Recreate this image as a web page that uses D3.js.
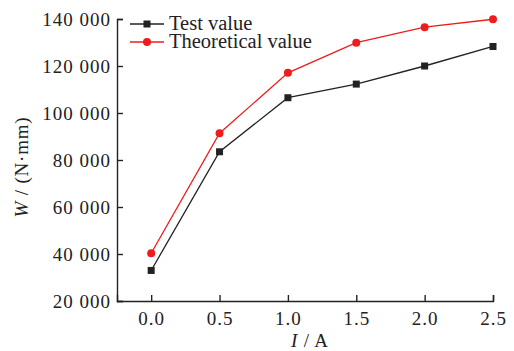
<!DOCTYPE html>
<html>
<head>
<meta charset="utf-8">
<script src="https://cdnjs.cloudflare.com/ajax/libs/d3/7.8.5/d3.min.js"></script>
<style>
  body { margin: 0; background: #fff; }
  svg { display: block; }
  text { font-family: "Liberation Serif", "Times New Roman", serif; fill: #222; }
</style>
</head>
<body>
<div id="chart"></div>
<script>
var current = [0.0, 0.5, 1.0, 1.5, 2.0, 2.5];
var testValue = [33000, 83500, 106500, 112300, 120000, 128300];
var theoreticalValue = [40300, 91400, 117100, 129900, 136500, 139900];
var xTicks = [0.0, 0.5, 1.0, 1.5, 2.0, 2.5];
var yTicks = [20000, 40000, 60000, 80000, 100000, 120000, 140000];

var width = 514, height = 351;
var m = { left: 117, right: 493, top: 19, bottom: 301 };

var svg = d3.select("#chart").append("svg")
    .attr("width", width)
    .attr("height", height);

var x = d3.scaleLinear().domain([-0.25, 2.5]).range([m.left, m.right]);
var y = d3.scaleLinear().domain([20000, 140000]).range([m.bottom, m.top]);

// thousands separated with a space
function fmt(d) {
    var s = String(d);
    return s.length > 3 ? s.slice(0, -3) + " " + s.slice(-3) : s;
}

var xAxis = svg.append("g")
    .attr("transform", "translate(0," + m.bottom + ")")
    .call(d3.axisBottom(x).tickValues(xTicks).tickSize(-6).tickPadding(11)
        .tickFormat(d3.format(".1f")));
var yAxis = svg.append("g")
    .attr("transform", "translate(" + m.left + ",0)")
    .call(d3.axisLeft(y).tickValues(yTicks).tickSize(-6).tickPadding(6).tickFormat(fmt));

[xAxis, yAxis].forEach(function (g) {
    g.select(".domain").attr("stroke", "#222").attr("stroke-width", 1.4);
    g.selectAll(".tick line").attr("stroke", "#222").attr("stroke-width", 1.4);
    g.selectAll(".tick text")
        .style("font-size", "19px")
        .style("letter-spacing", "1px")
        .style("font-family", "'Liberation Serif', serif")
        .attr("fill", "#222");
});

svg.append("text")
    .attr("x", 310).attr("y", 347)
    .attr("text-anchor", "middle")
    .style("font-size", "19px")
    .style("letter-spacing", "0.8px")
    .html('<tspan font-style="italic">I</tspan> / A');

svg.append("text")
    .attr("transform", "translate(28,167) rotate(-90)")
    .attr("text-anchor", "middle")
    .style("font-size", "19px")
    .style("letter-spacing", "0.8px")
    .html('<tspan font-style="italic">W</tspan> / (N\u00b7mm)');

var series = [
    { name: "Test value", values: testValue, color: "#222222", shape: "square" },
    { name: "Theoretical value", values: theoreticalValue, color: "#ee1c1c", shape: "circle" }
];

var line = d3.line()
    .x(function (d) { return x(d[0]); })
    .y(function (d) { return y(d[1]); });

function drawMarkers(g, xy, s) {
    if (s.shape === "square") {
        g.selectAll(null).data(xy).enter().append("rect")
            .attr("x", function (d) { return d[0] - 3.5; })
            .attr("y", function (d) { return d[1] - 3.5; })
            .attr("width", 7).attr("height", 7)
            .attr("fill", s.color);
    } else {
        g.selectAll(null).data(xy).enter().append("circle")
            .attr("cx", function (d) { return d[0]; })
            .attr("cy", function (d) { return d[1]; })
            .attr("r", 4)
            .attr("fill", s.color);
    }
}

series.forEach(function (s) {
    var pts = current.map(function (c, i) { return [c, s.values[i]]; });
    svg.append("path")
        .datum(pts)
        .attr("fill", "none")
        .attr("stroke", s.color)
        .attr("stroke-width", 1.3)
        .attr("d", line);
    drawMarkers(svg, pts.map(function (p) { return [x(p[0]), y(p[1])]; }), s);
});

// legend
var legend = svg.append("g");
series.forEach(function (s, i) {
    var ly = 24 + i * 18;
    legend.append("line")
        .attr("x1", 130).attr("x2", 164)
        .attr("y1", ly).attr("y2", ly)
        .attr("stroke", s.color).attr("stroke-width", 1.3);
    drawMarkers(legend, [[147, ly]], s);
    legend.append("text")
        .attr("x", 169).attr("y", ly + 6)
        .style("font-size", "20.5px")
        .text(s.name);
});
</script>
</body>
</html>
